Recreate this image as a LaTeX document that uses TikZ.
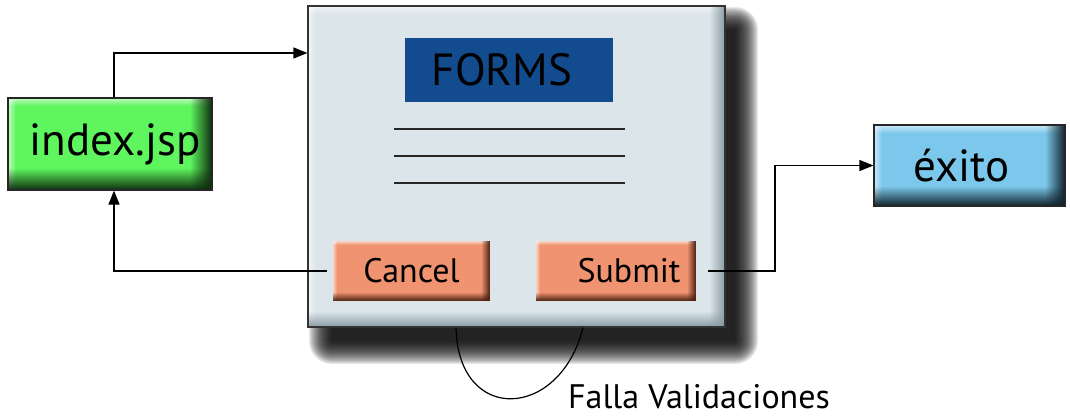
\documentclass[tikz,border=0pt]{standalone}
\usepackage{fontspec}
\setmainfont{PT Sans}
\usetikzlibrary{arrows.meta,fadings}

\definecolor{jspgreen}{HTML}{5EF55E}
\definecolor{jspdark}{HTML}{0E2E0E}
\definecolor{okblue}{HTML}{7CC8EC}
\definecolor{okdark}{HTML}{0F222B}
\definecolor{formbg}{HTML}{DCE6EA}
\definecolor{formdark}{HTML}{8A9CA4}
\definecolor{titleblue}{HTML}{134B8F}
\definecolor{btnfill}{HTML}{EF9370}
\definecolor{btndark}{HTML}{4A1E10}

\tikzfading[name=darkbottom, top color=transparent!100, bottom color=transparent!0]
\tikzfading[name=darkright, left color=transparent!100, right color=transparent!0]
\tikzfading[name=lighttop, top color=transparent!0, bottom color=transparent!100]
\tikzfading[name=lightleft, left color=transparent!0, right color=transparent!100]

\tikzset{
  % raised box: light top/left edge, dark bottom/right edge
  bevel/.style n args={4}{fill=#1, path picture={
    \path (path picture bounding box.south west) coordinate (bsw)
          (path picture bounding box.north east) coordinate (bne);
    \fill[white, opacity=0.6, path fading=lighttop]
      (bsw |- bne) rectangle ([yshift=-#4]bne);
    \fill[white, opacity=0.6, path fading=lightleft]
      (bsw) rectangle ([xshift=#4]bsw |- bne);
    \fill[#2, path fading=darkbottom]
      (bsw) rectangle ([yshift=#3]bsw -| bne);
    \fill[#2, path fading=darkright]
      ([xshift=-#3]bne |- bsw) rectangle (bne);
  }},
  box/.style={draw=black!85, line width=1.2pt, inner sep=0pt},
  arr/.style={line width=1.2pt, -{Triangle[length=14pt,width=11pt]}},
  wire/.style={line width=1.2pt},
}

\begin{document}
\begin{tikzpicture}[x=1pt, y=-1pt]
  \useasboundingbox (0,0) rectangle (1070,418);

  % soft drop shadow of the form window, cast to the lower right
  \foreach \i in {0,...,21}
    \fill[black, opacity=0.085, rounded corners={\i*1.1pt}]
      (332-\i*1.1, 30-\i*1.1) rectangle (735+\i*1.1, 341+\i*1.1);

  % form window
  \node[box, draw=black!80, bevel={formbg}{formdark}{16pt}{8pt},
        minimum width=417pt, minimum height=321pt] (form) at (516.5,166.5) {};

  % title bar
  \node[fill=titleblue, minimum width=208pt, minimum height=64pt, inner sep=0pt,
        font=\fontsize{45}{50}\selectfont] (title) at (509,70) {\hspace*{-14pt}FORMS};

  % text lines of the form
  \foreach \y in {129,156,183}
    \draw[line width=1.3pt, black!85] (394,\y) -- (625,\y);

  % buttons
  \node[bevel={btnfill}{btndark}{9pt}{4pt}, minimum width=157pt, minimum height=60pt,
        inner sep=0pt, font=\fontsize{34}{40}\selectfont] (cancel) at (411.5,271) {Cancel};
  \node[bevel={btnfill}{btndark}{9pt}{4pt}, minimum width=160pt, minimum height=60pt,
        inner sep=0pt, font=\fontsize{34}{40}\selectfont] (submit) at (616,271)
        {\hspace*{26pt}Submit};

  % pages
  \node[box, bevel={jspgreen}{jspdark}{22pt}{8pt}, minimum width=204pt, minimum height=92pt,
        font=\fontsize{45}{50}\selectfont] (index) at (110,144) {\hspace*{10pt}index.jsp};
  \node[box, bevel={okblue}{okdark}{20pt}{8pt}, minimum width=191pt, minimum height=81pt,
        font=\fontsize{45}{50}\selectfont] (exito) at (969.5,165.5) {\hspace*{-16pt}éxito};

  % navigation
  \coordinate (formin) at (form.west |- 0,53);
  \draw[arr] ([xshift=4pt]index.north) |- (formin);
  \draw[arr, shorten <=6pt] (cancel.west) -| ([xshift=4pt]index.south);
  \coordinate (turn) at (775,165.5);
  \draw[arr, shorten <=12pt] (submit.east) -| (turn) -- (exito.west);

  % validation failure loop back into the form
  \coordinate (va) at ([xshift=-60.5pt]form.south);
  \coordinate (vb) at ([xshift=66.5pt]form.south);
  \draw[wire] (va) .. controls (458,425) and (560,420) .. (vb);
  \node[font=\fontsize{34}{40}\selectfont, inner sep=0pt] (fail) at (699,397)
    {Falla Validaciones};
\end{tikzpicture}
\end{document}
